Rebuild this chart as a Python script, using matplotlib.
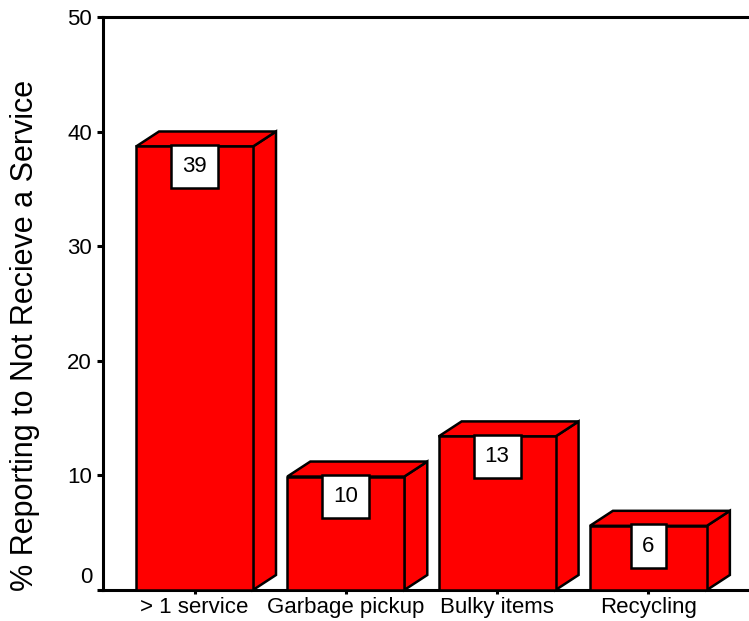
import numpy as np
import matplotlib.pyplot as plt
from matplotlib.patches import Polygon

categories = ['> 1 service', 'Garbage pickup', 'Bulky items', 'Recycling']
values = [38.7, 9.9, 13.4, 5.6]
bar_labels = ['39', '10', '13', '6']
yticks = [0, 10, 20, 30, 40, 50]

plt.rcParams['font.family'] = ['Liberation Sans', 'DejaVu Sans']

fig = plt.figure(figsize=(7.49, 6.21), dpi=100)
ax = fig.add_axes([103/749, 31/621, 1 - 103/749, (590 - 17)/621])

# bar geometry (front width and 3d depth)
w = 0.773
dx = 0.152
dy = 1.31
red = '#ff0000'

for i, v in enumerate(values):
    x0, x1 = i - w/2, i + w/2
    front = [(x0, 0), (x1, 0), (x1, v), (x0, v)]
    top = [(x0, v), (x1, v), (x1 + dx, v + dy), (x0 + dx, v + dy)]
    side = [(x1, 0), (x1 + dx, dy), (x1 + dx, v + dy), (x1, v)]
    for pts in (side, top, front):
        ax.add_patch(Polygon(pts, closed=True, facecolor=red, edgecolor='black',
                             lw=1.8, joinstyle='miter', clip_on=False, zorder=3))
    ax.annotate(bar_labels[i], xy=(i, v), xytext=(0, -7), textcoords='offset points',
                ha='center', va='top', fontsize=16, zorder=5,
                bbox=dict(boxstyle='square,pad=0.5', fc='white', ec='black', lw=1.8))

ax.set_xlim(-0.605, 3.665)
ax.set_ylim(0, 50)

ax.set_xticks(range(len(categories)))
ax.set_xticklabels(categories, fontsize=16)
ax.set_yticks(yticks)
ax.set_yticklabels([''] + [str(t) for t in yticks[1:]], fontsize=16)
# the zero label sits a little above its tick
ax.annotate(str(yticks[0]), xy=(0, yticks[0]), xycoords=('axes fraction', 'data'),
            xytext=(-7.5, 9), textcoords='offset points', ha='right', va='center',
            fontsize=16)

ax.tick_params(axis='x', length=3, width=2.2, pad=2)
ax.tick_params(axis='y', length=4, width=2.2, pad=4)

ax.spines['right'].set_visible(False)
for s in ('top', 'left', 'bottom'):
    ax.spines[s].set_linewidth(2.2)

fig.text(25/749, 1 - 335/621, '% Reporting to Not Recieve a Service',
         rotation=90, ha='center', va='center', fontsize=22)

fig.savefig('out.png', dpi=100)
